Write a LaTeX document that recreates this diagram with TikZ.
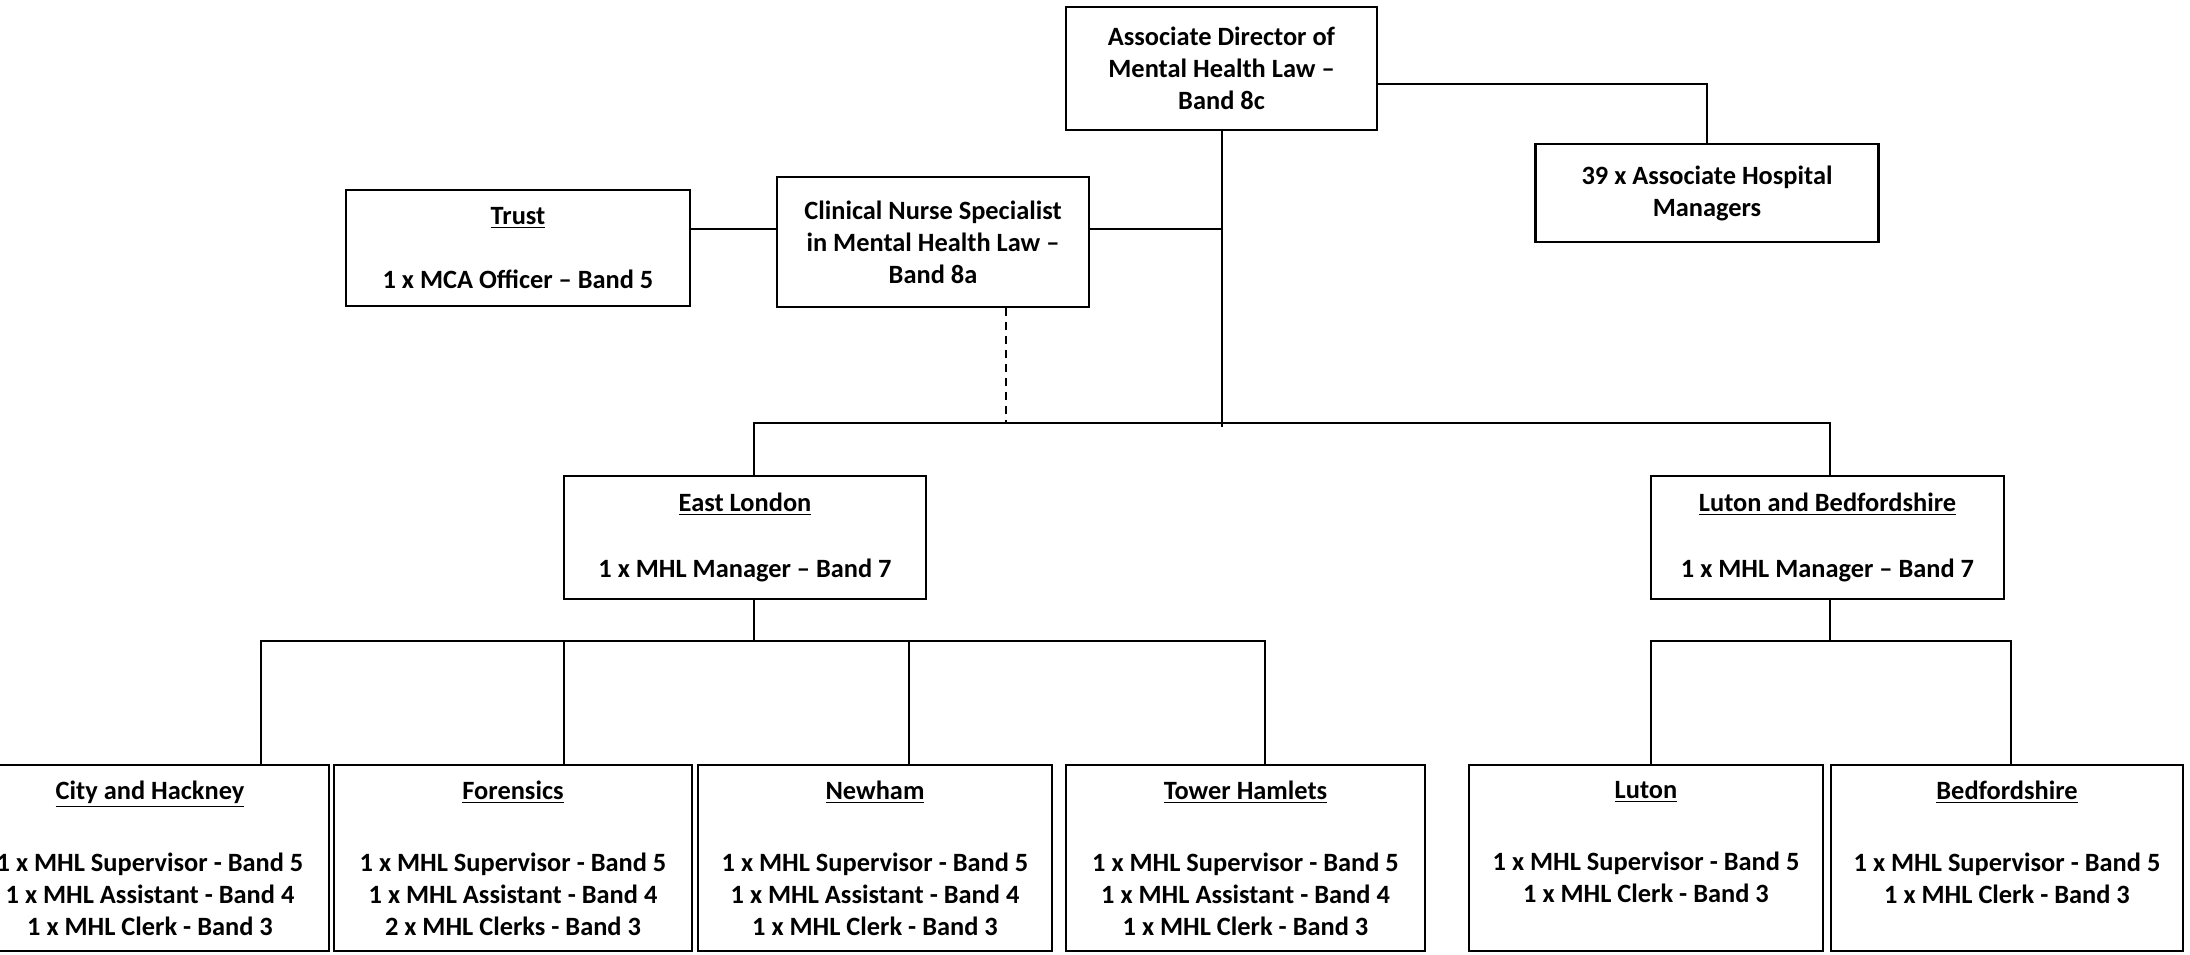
\documentclass[tikz,border=0pt]{standalone}
\usepackage{fontspec}
\setmainfont{Carlito}
\usetikzlibrary{calc}
\tikzset{
	obox/.style={
		draw,
		line width=1.2pt,
		align=center,
		inner sep=0pt,
		font=\fontsize{13.2pt}{16pt}\selectfont\bfseries
	},
	olink/.style={line width=1pt}
}

\begin{document}
\begin{tikzpicture}[x=0.5pt, y=-0.5pt]
		\useasboundingbox (0,0) rectangle (2190,954);
		\clip (0,0) rectangle (2190,954);
		\node[obox, minimum width=155.5pt, minimum height=61.5pt] (dir) at (1221.5,68.5) {Associate Director of\\Mental Health Law –\\Band 8c};
		\node[obox, minimum width=171.5pt, minimum height=49pt] (ahm) at (1707,193) {39 x Associate Hospital\\Managers};
		\node[obox, minimum width=172pt, minimum height=58pt] (trust) at (518,248) {\underline{Trust}\\[16pt]1 x MCA Officer – Band 5};
		\node[obox, minimum width=156pt, minimum height=65pt] (cns) at (933,242) {Clinical Nurse Specialist\\in Mental Health Law –\\Band 8a};
		\node[obox, minimum width=181pt, minimum height=61.5pt] (el) at (745,537.5) {\underline{East London}\\[17pt]1 x MHL Manager – Band 7};
		\node[obox, minimum width=176.5pt, minimum height=61.5pt] (lb) at (1827.5,537.5) {\underline{Luton and Bedfordshire}\\[17pt]1 x MHL Manager – Band 7};
		\node[obox, minimum width=179pt, minimum height=93pt] (ch) at (150,858) {\underline{City and Hackney}\\[20pt]1 x MHL Supervisor - Band 5\\1 x MHL Assistant - Band 4\\1 x MHL Clerk - Band 3};
		\node[obox, minimum width=179pt, minimum height=93pt] (fo) at (513,858) {\underline{Forensics}\\[20pt]1 x MHL Supervisor - Band 5\\1 x MHL Assistant - Band 4\\2 x MHL Clerks - Band 3};
		\node[obox, minimum width=177pt, minimum height=93pt] (ne) at (875,858) {\underline{Newham}\\[20pt]1 x MHL Supervisor - Band 5\\1 x MHL Assistant - Band 4\\1 x MHL Clerk - Band 3};
		\node[obox, minimum width=179.5pt, minimum height=93pt] (th) at (1245.5,858) {\underline{Tower Hamlets}\\[20pt]1 x MHL Supervisor - Band 5\\1 x MHL Assistant - Band 4\\1 x MHL Clerk - Band 3};
		\node[obox, minimum width=177pt, minimum height=93pt] (lu) at (1646,858) {\underline{Luton}\\[20pt]1 x MHL Supervisor - Band 5\\1 x MHL Clerk - Band 3\\\phantom{1}};
		\node[obox, minimum width=176pt, minimum height=93pt] (be) at (2007,858) {\underline{Bedfordshire}\\[20pt]1 x MHL Supervisor - Band 5\\1 x MHL Clerk - Band 3\\\phantom{1}};
		% top part
		\draw[olink] ($(dir.east)+(0,15.5)$) -| (ahm.north);
		\draw[olink] (dir.south) -- ++(0,296) coordinate (j0);
		\coordinate (j) at ($(dir.south)+(0,292)$);
		\coordinate (mid) at ($(dir.south)+(0,98)$);
		\draw[olink] (trust.east |- mid) -- (cns.west |- mid);
		\draw[olink] (cns.east |- mid) -- (mid);
		\draw[olink] ($(el.north)+(9,0)$) |- (j);
		\draw[olink] ($(lb.north)+(2.5,0)$) |- (j);
		\draw[olink, dash pattern=on 4pt off 3pt] ($(cns.south)+(73,0)$) coordinate (d) -- (d |- j);
		% east london
		\draw[olink] ($(el.south)+(9,0)$) -- ++(0,41) coordinate (ej);
		\draw[olink] ($(ch.north)+(111,0)$) |- (ej);
		\draw[olink] ($(fo.north)+(51,0)$) |- (ej);
		\draw[olink] ($(ne.north)+(34,0)$) |- (ej);
		\draw[olink] ($(th.north)+(19.5,0)$) |- (ej);
		% luton and bedfordshire
		\draw[olink] ($(lb.south)+(2.5,0)$) -- ++(0,41) coordinate (lj);
		\draw[olink] ($(lu.north)+(5,0)$) |- (lj);
		\draw[olink] ($(be.north)+(4,0)$) |- (lj);
	\end{tikzpicture}
\end{document}
